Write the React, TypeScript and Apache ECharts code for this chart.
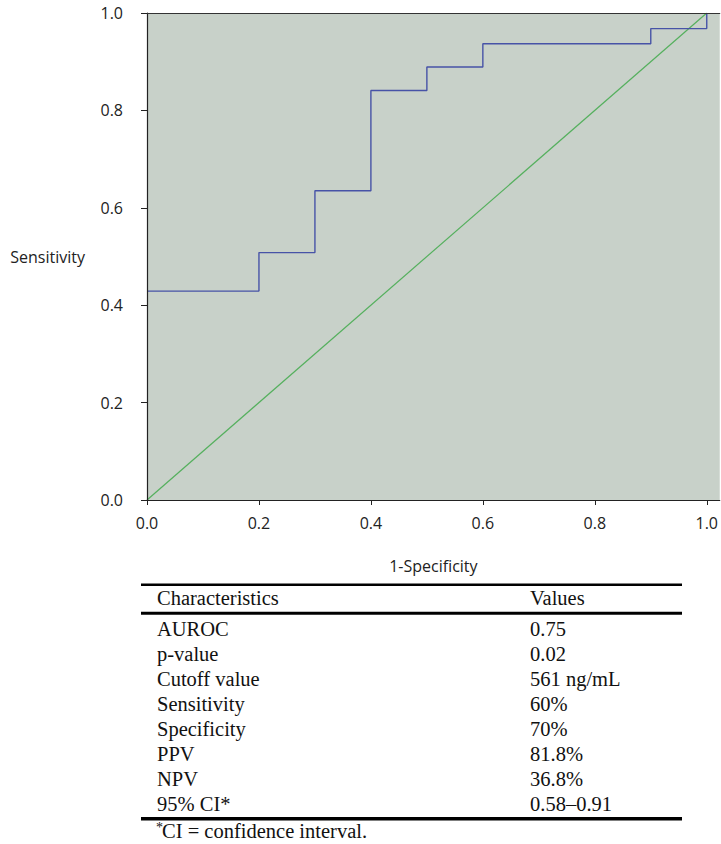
import React, { useEffect, useRef } from "react";
import * as echarts from "echarts";

// ROC curve (1-Specificity, Sensitivity)
const fprValues = [0, 0.2, 0.3, 0.4, 0.5, 0.6, 0.9, 1.0];
const tprValues = [0.429, 0.508, 0.635, 0.841, 0.889, 0.937, 0.968, 1.0];
const refX = [0, 1];
const refY = [0, 1];
const xTicks = [0, 0.2, 0.4, 0.6, 0.8, 1.0];

// Table
const tableHeaders = ["Characteristics", "Values"];
const tableLabels = ["AUROC", "p-value", "Cutoff value", "Sensitivity", "Specificity", "PPV", "NPV", "95% CI*"];
const tableValues = ["0.75", "0.02", "561 ng/mL", "60%", "70%", "81.8%", "36.8%", "0.58\u20130.91"];
const footnoteMark = "*";
const footnoteText = "CI = confidence interval.";

const SANS = "'Open Sans', 'Noto Sans', sans-serif";
const SERIF = "'Liberation Serif', 'Times New Roman', serif";

export default function App() {
  const ref = useRef<HTMLDivElement>(null);
  useEffect(() => {
    if (!ref.current) return;
    const chart = echarts.init(ref.current, undefined, { renderer: "svg" });

    const col1 = 157;
    const col2 = 530;
    const ruleL = 141;
    const ruleR = 682;
    const rowY0 = 629;
    const rowStep = 25;
    const fs = 20.5;

    const graphics: any[] = [];
    const hline = (y: number, w: number) => ({
      type: "line",
      shape: { x1: ruleL, y1: y, x2: ruleR, y2: y },
      style: { stroke: "#000", lineWidth: w },
      silent: true,
    });
    graphics.push(hline(584.7, 2.5));
    graphics.push(hline(613.3, 3));
    graphics.push(hline(818.7, 3.5));
    const txt = (x: number, y: number, t: string, size = fs) => ({
      type: "text",
      x,
      y,
      style: { text: t, fontSize: size, fontFamily: SERIF, fill: "#111", verticalAlign: "middle", align: "left" },
      silent: true,
    });
    graphics.push(txt(col1, 598, tableHeaders[0]));
    graphics.push(txt(col2, 598, tableHeaders[1]));
    tableLabels.forEach((l, i) => {
      graphics.push(txt(col1, rowY0 + rowStep * i, l));
      graphics.push(txt(col2, rowY0 + rowStep * i, tableValues[i]));
    });
    graphics.push(txt(156, 827, footnoteMark, 14));
    graphics.push(txt(162, 831, footnoteText));

    const option: any = {
      animation: false,
      backgroundColor: "#ffffff",
      grid: {
        left: 147,
        top: 13,
        right: 0,
        bottom: 344,
        show: true,
        backgroundColor: "#c8d1c9",
        borderWidth: 0,
      },
      xAxis: [
        {
          type: "value",
          min: 0,
          max: 1.0232,
          position: "bottom",
          z: 5,
          axisLine: { show: true, onZero: false, lineStyle: { color: "#222", width: 1.2 } },
          axisTick: { show: true, length: 5, customValues: xTicks, lineStyle: { color: "#222" } },
          axisLabel: {
            customValues: xTicks,
            formatter: (v: number) => v.toFixed(1),
            fontSize: 16,
            fontFamily: SANS,
            color: "#222",
            margin: 15,
          },
          splitLine: { show: false },
          name: "1-Specificity",
          nameLocation: "middle",
          nameGap: 58,
          nameTextStyle: { fontSize: 16, fontFamily: SANS, color: "#222" },
        },
        {
          type: "value",
          min: 0,
          max: 1.0232,
          position: "top",
          z: 5,
          axisLine: { show: true, onZero: false, lineStyle: { color: "#333", width: 1.2 } },
          axisTick: { show: false },
          axisLabel: { show: false },
          splitLine: { show: false },
        },
      ],
      yAxis: {
        type: "value",
        min: 0,
        max: 1,
        interval: 0.2,
        z: 5,
        axisLine: { show: true, onZero: false, lineStyle: { color: "#222", width: 1.2 } },
        axisTick: { show: true, length: 6, lineStyle: { color: "#222" } },
        axisLabel: {
          formatter: (v: number) => v.toFixed(1),
          fontSize: 16,
          fontFamily: SANS,
          color: "#222",
          margin: 24,
        },
        splitLine: { show: false },
        name: "Sensitivity",
        nameLocation: "middle",
        nameRotate: 0,
        nameGap: 62,
        nameTextStyle: { fontSize: 16, fontFamily: SANS, color: "#222", align: "right" },
      },
      series: [
        {
          type: "line",
          data: refX.map((x, i) => [x, refY[i]]),
          xAxisIndex: 0,
          showSymbol: false,
          symbol: "none",
          lineStyle: { color: "#55b05e", width: 1.2 },
          silent: true,
        },
        {
          type: "line",
          data: fprValues.map((x, i) => [x, tprValues[i]]),
          xAxisIndex: 0,
          step: "end",
          showSymbol: false,
          symbol: "none",
          lineStyle: { color: "#4753a7", width: 1.4 },
          silent: true,
        },
      ],
      graphic: graphics,
    };
    chart.setOption(option);
    return () => chart.dispose();
  }, []);
  return (
    <div
      ref={ref}
      style={{ position: "absolute", left: 0, top: 0, width: 721, height: 844 }}
    />
  );
}
